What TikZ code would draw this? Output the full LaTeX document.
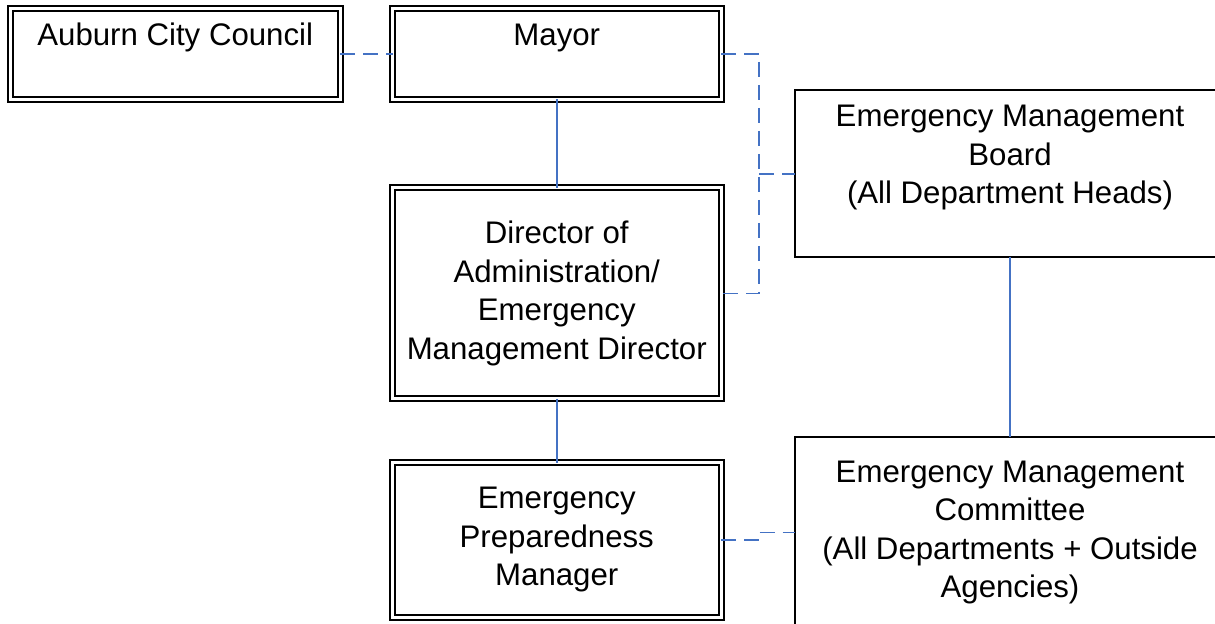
\documentclass[tikz,border=0pt]{standalone}
\usepackage{fontspec}
\setmainfont{Liberation Sans}
\usetikzlibrary{positioning}
\definecolor{linkblue}{HTML}{4472C4}
\newcommand{\orgfont}{\fontsize{15.6pt}{19.25pt}\selectfont}

\begin{document}
\begin{tikzpicture}[
    x=0.5pt, y=-0.5pt,
    office/.style={draw, double, line width=1pt, double distance=1.5pt, outer sep=0pt, inner sep=0pt, minimum width=164.25pt, align=center, font=\orgfont},
    group/.style={draw, line width=1pt, outer sep=0pt, inner sep=0pt, minimum width=215pt, align=center, font=\orgfont},
    toptext/.style={anchor=north, inner sep=0pt, align=center, font=\orgfont},
    solidline/.style={draw=linkblue, line width=0.8pt},
    dashline/.style={draw=linkblue, line width=0.8pt, dash pattern=on 7.5pt off 4pt}
  ]

  \useasboundingbox (0,0) rectangle (1215,624);

  % Nodes
  \node[office, minimum height=45.5pt, label={[toptext, yshift=-7.5pt]north:{Mayor}}] (mayor) at (556.75,54) {};
  \node[office, minimum width=164.75pt, minimum height=45.5pt, left=26.25pt of mayor, label={[toptext, yshift=-7pt]north:{Auburn City Council}}] (council) {};
  \node[office, minimum height=105.5pt, below=44.25pt of mayor] (director) {Director of\\Administration/\\Emergency\\Management Director};
  \node[office, minimum height=77pt, below=32pt of director] (prep) {Emergency\\Preparedness\\Manager};
  \node[group, minimum height=83.25pt, label={[toptext, yshift=-7.25pt]north:{Emergency Management\\Board\\(All Department Heads)}}] (board) at (1010,173.75) {};
  \node[group, minimum height=95.5pt, below=90pt of board] (committee) {Emergency Management\\Committee\\(All Departments + Outside\\Agencies)};

  \coordinate (bus) at (759,173.75);

  % Solid links
  \draw[solidline] (mayor) -- (director);
  \draw[solidline] (director) -- (prep);
  \draw[solidline] (board) -- (committee);

  % Dashed links
  \draw[dashline] (council.east) -- (mayor.west);
  \draw[dashline] (mayor.east) -| (bus) |- (director.east);
  \draw[dashline] (bus) -- (board.west);
  \draw[dashline] (prep.east) -- (prep.east -| bus) -- (bus |- committee.west) -- (committee.west);

\end{tikzpicture}
\end{document}
